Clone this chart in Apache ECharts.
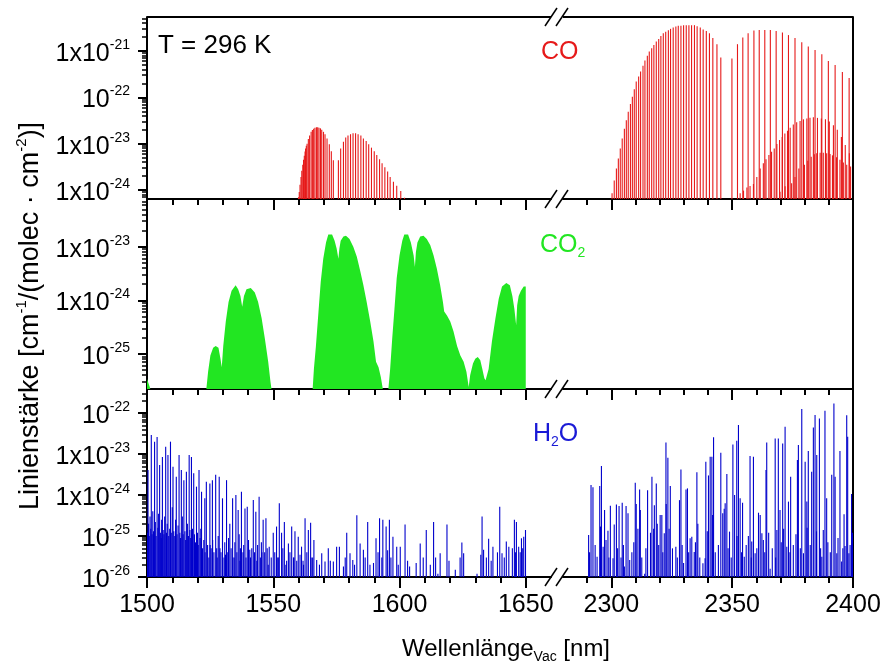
<!DOCTYPE html>
<html>
<head>
<meta charset="utf-8">
<script src="https://cdn.jsdelivr.net/npm/echarts@6.0.0/dist/echarts.min.js"></script>
<style>
  html, body { margin: 0; padding: 0; background: #fff; }
  #main { width: 886px; height: 664px; }
</style>
</head>
<body>
<div id="main"></div>
<script>
// --- data: [wavelength nm, line strength cm^-1/(molec cm^-2)] ---

// CO, 3-0 band near 1.57 um
var coLeft = [
  [1560.0, 7.0e-25], [1560.3, 9.1e-25], [1560.6, 1.3e-24], [1561.0, 1.9e-24], [1561.3, 2.6e-24],
  [1561.7, 3.5e-24], [1562.0, 4.5e-24], [1562.3, 5.5e-24], [1562.6, 6.8e-24], [1562.8, 7.9e-24],
  [1563.1, 9.0e-24], [1563.4, 1.0e-23], [1563.9, 1.26e-23], [1564.4, 1.5e-23], [1565.0, 1.8e-23],
  [1565.5, 1.97e-23], [1566.0, 2.1e-23], [1566.5, 2.2e-23], [1567.1, 2.25e-23], [1567.6, 2.25e-23],
  [1568.1, 2.2e-23], [1568.7, 2.14e-23], [1569.2, 2.0e-23], [1569.9, 1.8e-23], [1570.5, 1.6e-23],
  [1571.3, 1.3e-23], [1572.2, 9.7e-24], [1573.0, 6.9e-24], [1573.8, 4.4e-24],
  [1575.8, 4.4e-24], [1576.7, 7.9e-24], [1577.8, 1.1e-23], [1578.7, 1.35e-23], [1579.6, 1.5e-23],
  [1580.6, 1.6e-23], [1581.6, 1.67e-23], [1582.6, 1.67e-23], [1583.6, 1.6e-23], [1584.7, 1.5e-23],
  [1585.7, 1.3e-23], [1586.8, 1.14e-23], [1587.8, 9.7e-24], [1588.9, 8.2e-24], [1590.0, 6.9e-24],
  [1591.0, 5.7e-24], [1592.1, 4.6e-24], [1593.1, 3.8e-24], [1594.2, 3.1e-24], [1595.3, 2.5e-24],
  [1596.3, 1.9e-24], [1597.6, 1.5e-24], [1598.9, 1.24e-24], [1600.5, 9.5e-25], [1602.0, 6.8e-25]
];

// CO, 2-0 band near 2.33 um
var coRight = [
  [2300.3, 8.5e-25], [2301.2, 1.6e-24], [2302.1, 2.9e-24], [2302.9, 4.8e-24], [2303.7, 7.9e-24],
  [2304.5, 1.3e-23], [2305.4, 2.1e-23], [2306.2, 3.2e-23], [2307.0, 4.9e-23], [2307.9, 7.2e-23],
  [2308.7, 1.03e-22], [2309.5, 1.5e-22], [2310.3, 2.2e-22], [2311.3, 2.8e-22], [2312.1, 3.6e-22],
  [2313.1, 4.8e-22], [2313.9, 6.2e-22], [2314.9, 7.9e-22], [2315.7, 9.7e-22], [2316.7, 1.14e-21],
  [2317.6, 1.35e-21], [2318.6, 1.6e-21], [2319.6, 1.8e-21], [2320.5, 2.1e-21], [2321.5, 2.4e-21],
  [2322.5, 2.6e-21], [2323.6, 2.8e-21], [2324.5, 3.0e-21], [2325.6, 3.2e-21], [2326.7, 3.35e-21],
  [2327.7, 3.5e-21], [2328.8, 3.5e-21], [2329.9, 3.6e-21], [2331.0, 3.6e-21], [2332.1, 3.6e-21],
  [2333.2, 3.6e-21], [2334.4, 3.6e-21], [2335.5, 3.4e-21], [2336.8, 3.2e-21], [2338.0, 2.9e-21],
  [2339.3, 2.7e-21], [2340.6, 2.4e-21], [2342.0, 1.9e-21], [2343.7, 1.4e-21], [2345.3, 7.2e-22],
  [2349.9, 6.9e-22], [2352.2, 1.4e-21], [2354.4, 1.94e-21], [2356.6, 2.4e-21], [2359.0, 2.75e-21],
  [2361.2, 2.84e-21], [2363.5, 2.84e-21], [2365.8, 2.84e-21], [2368.2, 2.7e-21], [2370.8, 2.5e-21],
  [2373.3, 2.2e-21], [2376.0, 1.9e-21], [2378.8, 1.54e-21], [2381.5, 1.24e-21], [2384.3, 1.05e-21],
  [2387.1, 8.5e-22], [2389.8, 6.1e-22], [2392.6, 5.0e-22], [2395.6, 3.5e-22], [2398.4, 2.6e-22]
];

// weaker CO bands (isotopologue / hot band) under the 2-0 band
var coWeakA = [
  [2353.3, 8.5e-25], [2354.7, 9.7e-25], [2356.1, 1.14e-24], [2357.4, 1.22e-24], [2358.8, 1.35e-24],
  [2360.2, 1.9e-24], [2361.6, 2.9e-24], [2362.9, 3.8e-24], [2364.0, 4.6e-24], [2365.2, 5.7e-24],
  [2366.3, 6.7e-24], [2367.4, 7.9e-24], [2368.5, 9.8e-24], [2369.6, 1.2e-23], [2370.7, 1.4e-23],
  [2371.8, 1.66e-23], [2372.9, 1.9e-23], [2374.0, 2.2e-23], [2375.3, 2.6e-23], [2376.7, 2.9e-23],
  [2378.1, 3.1e-23], [2379.5, 3.35e-23], [2380.9, 3.5e-23], [2382.2, 3.6e-23], [2383.6, 3.7e-23],
  [2385.3, 3.6e-23], [2386.9, 3.5e-23], [2388.6, 3.35e-23], [2390.2, 3.0e-23], [2391.9, 2.5e-23],
  [2393.5, 2.0e-23], [2395.2, 1.4e-23], [2396.8, 9.3e-24], [2398.5, 6.2e-24]
];
var coWeakB = [
  [2369.8, 9.2e-25], [2371.9, 1.2e-24], [2374.6, 1.4e-24], [2376.0, 1.9e-24], [2377.6, 2.9e-24],
  [2379.9, 3.5e-24], [2381.3, 4.3e-24], [2382.7, 5.2e-24], [2384.0, 5.9e-24], [2385.0, 6.2e-24],
  [2386.4, 6.4e-24], [2387.7, 6.4e-24], [2389.1, 6.2e-24], [2390.5, 6.0e-24], [2391.5, 5.6e-24],
  [2393.2, 5.1e-24], [2394.6, 4.5e-24], [2396.0, 3.9e-24], [2397.4, 3.5e-24], [2399.0, 3.2e-24]
];

// CO2 bands: envelope of the dense line forest (drawn as filled area)
var co2Envelope = [
  [1500.0, 3.4e-26], [1501.1, 2.4e-26], [1501.3, 2.2e-26],
  [1523.5, 2.2e-26], [1524.2, 4.6e-26], [1525.1, 9.3e-26], [1526.2, 1.3e-25], [1527.2, 1.4e-25],
  [1528.3, 1.3e-25], [1529.1, 8.1e-26], [1529.6, 5.6e-26],
  [1530.2, 1.4e-25], [1531.2, 4.0e-25], [1532.3, 9.3e-25], [1533.5, 1.5e-24], [1535.1, 1.9e-24],
  [1536.1, 1.6e-24], [1537.0, 1.2e-24], [1537.7, 7.6e-25],
  [1538.4, 1.2e-24], [1539.4, 1.6e-24], [1541.1, 1.7e-24], [1542.7, 1.4e-24], [1544.0, 9.3e-25],
  [1545.4, 4.6e-25], [1546.7, 1.9e-25], [1548.0, 7.1e-26], [1548.9, 3.0e-26], [1549.3, 2.2e-26],
  [1565.6, 2.2e-26], [1566.1, 5.2e-26], [1566.9, 1.4e-25], [1567.9, 6.0e-25], [1568.8, 2.2e-24],
  [1569.8, 6.0e-24], [1570.9, 1.2e-23], [1571.8, 1.7e-23], [1572.5, 1.8e-23], [1573.3, 1.7e-23],
  [1574.3, 1.3e-23], [1575.1, 9.3e-24], [1575.8, 6.0e-24],
  [1576.2, 9.3e-24], [1576.7, 1.3e-23], [1577.8, 1.55e-23], [1578.8, 1.6e-23], [1580.2, 1.4e-23],
  [1581.7, 1.0e-23], [1583.1, 6.5e-24], [1584.4, 3.6e-24], [1585.7, 1.9e-24], [1587.0, 9.3e-25],
  [1588.4, 4.0e-25], [1589.7, 1.7e-25], [1590.7, 7.1e-26], [1591.7, 5.6e-26], [1592.6, 3.7e-26],
  [1593.4, 2.2e-26],
  [1595.6, 2.2e-26], [1596.3, 5.2e-26], [1597.1, 1.9e-25], [1598.0, 6.9e-25], [1598.9, 2.6e-24],
  [1600.0, 6.9e-24], [1601.1, 1.3e-23], [1601.9, 1.7e-23], [1602.6, 1.8e-23], [1603.4, 1.7e-23],
  [1604.5, 1.2e-23], [1605.6, 6.9e-24], [1606.1, 4.2e-24],
  [1606.5, 8.0e-24], [1607.1, 1.2e-23], [1608.2, 1.55e-23], [1609.5, 1.6e-23], [1610.8, 1.4e-23],
  [1612.2, 1.07e-23], [1613.5, 6.9e-24], [1614.8, 3.9e-24], [1616.1, 1.9e-24], [1617.2, 9.3e-25],
  [1617.7, 6.2e-25], [1618.8, 5.2e-25], [1620.1, 4.0e-25], [1621.4, 2.6e-25], [1622.8, 1.4e-25],
  [1624.1, 9.3e-26], [1625.4, 7.1e-26], [1626.5, 4.6e-26], [1627.1, 3.0e-26], [1627.4, 2.4e-26],
  [1628.0, 4.0e-26], [1629.1, 6.6e-26], [1630.0, 8.1e-26], [1631.0, 8.7e-26], [1632.0, 7.6e-26],
  [1632.8, 5.2e-26], [1633.6, 3.5e-26], [1634.1, 3.2e-26],
  [1635.3, 5.2e-26], [1636.6, 1.7e-25], [1638.0, 4.6e-25], [1639.3, 1.07e-24], [1640.6, 1.8e-24],
  [1642.3, 2.1e-24], [1643.7, 1.9e-24], [1644.7, 1.2e-24], [1645.5, 6.9e-25], [1646.2, 3.4e-25],
  [1646.6, 8.1e-25], [1647.2, 1.2e-24], [1648.1, 1.5e-24], [1649.2, 1.8e-24], [1650.0, 1.8e-24],
  [1650.0, 2.2e-26]
];

// H2O lines, 1500-1650 nm
var h2oLeft = [
  [1500.4, 4.1e-24], [1501.7, 2.9e-23], [1503.0, 2.0e-23], [1504.0, 2.6e-23], [1505.0, 5.4e-24],
  [1506.1, 8.5e-24], [1507.4, 1.5e-23], [1508.3, 9.5e-24], [1509.3, 2.0e-23], [1510.3, 4.9e-24],
  [1511.6, 2.8e-24], [1512.7, 9.5e-24], [1513.6, 4.1e-24], [1514.6, 2.3e-24], [1515.6, 3.7e-24],
  [1516.7, 9.5e-24], [1517.6, 8.5e-24], [1518.5, 3.4e-24], [1519.6, 1.6e-24], [1520.6, 4.1e-24],
  [1521.6, 1.2e-24], [1522.9, 8.3e-25], [1523.5, 2.1e-24], [1524.9, 1.9e-24], [1525.9, 2.3e-24],
  [1527.2, 3.1e-24], [1528.6, 2.8e-24], [1529.9, 8.3e-25], [1531.5, 2.3e-24], [1532.8, 2.0e-25],
  [1533.9, 8.3e-25], [1535.2, 1.0e-24], [1536.1, 4.3e-25], [1537.4, 1.2e-24], [1538.8, 4.7e-25],
  [1539.7, 5.2e-25], [1540.7, 4.6e-26], [1542.1, 7.5e-25], [1543.1, 3.9e-25], [1544.4, 9.1e-25],
  [1546.0, 2.5e-25], [1547.1, 2.7e-25], [1548.4, 5.5e-26], [1550.0, 1.2e-25], [1551.3, 1.7e-25],
  [1552.4, 6.3e-25], [1553.3, 1.2e-25], [1554.4, 2.2e-25], [1556.0, 6.6e-26], [1557.3, 1.7e-25],
  [1558.6, 1.3e-25], [1559.9, 9.6e-26], [1561.2, 5.5e-26], [1562.6, 2.7e-25], [1563.9, 1.4e-25],
  [1564.8, 2.1e-25], [1566.1, 8.0e-26], [1567.2, 2.6e-26], [1569.2, 3.8e-26], [1570.5, 2.4e-26],
  [1571.8, 5.0e-26], [1573.8, 2.4e-26], [1575.1, 5.5e-26], [1576.2, 5.5e-26], [1577.8, 1.8e-26],
  [1579.1, 1.2e-25], [1580.4, 3.8e-26], [1581.5, 2.6e-26], [1583.1, 3.2e-25], [1584.4, 6.6e-26],
  [1585.7, 4.6e-26], [1587.4, 2.2e-25], [1589.7, 2.2e-26], [1590.7, 8.8e-26], [1592.1, 2.7e-25],
  [1593.4, 2.5e-25], [1594.7, 1.7e-25], [1596.0, 2.5e-25], [1597.4, 9.6e-26], [1598.9, 5.5e-26],
  [1600.3, 5.5e-26], [1602.2, 1.9e-25], [1604.0, 1.8e-26], [1606.6, 2.2e-26], [1608.2, 6.6e-26],
  [1610.6, 1.4e-25], [1613.5, 2.2e-25], [1615.2, 1.2e-26], [1616.1, 3.8e-26], [1618.8, 1.9e-25],
  [1622.1, 1.5e-26], [1624.7, 6.9e-26], [1625.4, 3.8e-26], [1630.7, 1.2e-26], [1632.7, 3.0e-25],
  [1633.3, 4.6e-26], [1635.3, 8.6e-26], [1637.0, 5.5e-26], [1639.7, 5.2e-25], [1640.6, 3.8e-26],
  [1642.3, 7.3e-26], [1643.3, 5.5e-26], [1645.5, 2.5e-25], [1646.3, 2.2e-25], [1647.2, 5.5e-26],
  [1648.3, 8.8e-26], [1649.2, 9.6e-26], [1649.9, 1.4e-25]
];
// the many weak H2O lines that fill the lower part of the panel
var h2oLeftWeak = [
  [1500.2, 1.2e-25], [1500.6, 2.0e-25], [1500.9, 1.0e-25], [1501.2, 3.0e-25], [1501.5, 1.5e-25],
  [1502.0, 1.1e-25], [1502.3, 4.0e-25], [1502.6, 1.3e-25], [1503.3, 2.2e-25], [1503.6, 1.0e-25],
  [1504.3, 1.6e-25], [1504.6, 3.5e-25], [1505.3, 1.2e-25], [1505.6, 9.0e-26], [1505.8, 2.5e-25],
  [1506.4, 1.4e-25], [1506.7, 1.1e-25], [1507.0, 3.0e-25], [1507.7, 1.2e-25], [1508.0, 2.0e-25],
  [1508.6, 1.0e-25], [1509.0, 1.5e-25], [1509.6, 1.2e-25], [1510.0, 5.0e-25], [1510.6, 1.3e-25],
  [1511.0, 1.0e-25], [1511.3, 2.5e-25], [1511.9, 1.1e-25], [1512.3, 1.8e-25], [1513.0, 1.2e-25],
  [1513.3, 9.0e-26], [1514.0, 3.0e-25], [1514.3, 1.1e-25], [1515.0, 1.3e-25], [1515.3, 8.0e-26],
  [1516.0, 2.0e-25], [1516.4, 1.0e-25], [1517.0, 1.4e-25], [1517.3, 9.0e-26], [1518.0, 1.5e-25],
  [1518.8, 1.1e-25], [1519.2, 7.0e-26], [1520.0, 1.2e-25], [1520.3, 6.0e-26], [1521.0, 9.0e-26],
  [1521.3, 1.5e-25], [1522.0, 5.0e-26], [1522.5, 8.0e-26], [1523.0, 4.0e-26], [1524.0, 6.0e-26],
  [1524.5, 3.0e-26], [1525.0, 6.0e-26], [1525.4, 5.0e-26], [1526.0, 8.0e-26], [1526.5, 4.0e-26],
  [1527.6, 5.0e-26], [1527.8, 3.0e-26], [1528.2, 1.0e-25], [1528.9, 5.0e-26], [1529.3, 4.0e-26],
  [1530.5, 3.0e-26], [1530.8, 7.0e-26], [1531.1, 3.5e-26], [1532.0, 4.0e-26], [1532.3, 9.0e-26],
  [1533.3, 5.0e-26], [1534.0, 3.0e-26], [1534.5, 3.0e-26], [1534.8, 7.0e-26], [1535.6, 4.0e-26],
  [1536.5, 1.1e-25], [1536.8, 2.5e-26], [1537.0, 5.0e-26], [1538.0, 4.0e-26], [1538.3, 6.0e-26],
  [1539.2, 3.0e-26], [1540.2, 8.0e-26], [1541.0, 3.0e-26], [1541.5, 5.0e-26], [1542.6, 4.0e-26],
  [1543.5, 2.5e-26], [1543.8, 6.0e-26], [1544.9, 3.0e-26], [1545.3, 7.0e-26], [1545.5, 4.0e-26],
  [1546.6, 4.0e-26], [1547.6, 5.0e-26], [1548.0, 2.0e-26], [1549.2, 3.0e-26], [1550.6, 4.0e-26],
  [1551.8, 3.0e-26], [1552.0, 3.0e-26], [1553.8, 5.0e-26], [1555.0, 2.0e-26], [1555.3, 2.5e-26],
  [1556.6, 4.0e-26], [1558.0, 3.0e-26], [1558.2, 3.0e-26], [1559.3, 2.5e-26], [1560.6, 3.5e-26],
  [1561.8, 2.5e-26], [1562.0, 2.0e-26], [1563.3, 4.0e-26], [1565.0, 3.0e-26], [1565.6, 3.0e-26],
  [1568.3, 2.0e-26], [1572.6, 2.5e-26], [1578.5, 3.0e-26], [1582.2, 2.0e-26], [1586.4, 3.0e-26],
  [1588.3, 2.0e-26], [1591.5, 4.0e-26], [1593.0, 3.0e-26], [1595.3, 4.5e-26], [1596.6, 3.0e-26],
  [1599.5, 2.0e-26], [1603.2, 2.5e-26], [1609.4, 3.0e-26], [1612.2, 2.0e-26], [1614.3, 3.0e-26],
  [1619.6, 2.5e-26], [1624.0, 3.0e-26], [1632.2, 3.5e-26], [1634.4, 3.0e-26], [1636.3, 2.5e-26],
  [1638.8, 4.0e-26], [1641.5, 3.0e-26], [1644.7, 5.0e-26], [1645.9, 4.0e-26], [1647.8, 4.0e-26],
  [1648.8, 5.0e-26]
];

// H2O lines, 2290-2400 nm
var h2oRight = [
  [2290.6, 1.06e-25], [2291.6, 1.75e-24], [2292.4, 1.54e-24], [2294.1, 3.1e-26], [2295.2, 1.66e-24],
  [2295.5, 1.7e-25], [2295.9, 5.1e-24], [2296.6, 5.5e-26], [2297.2, 4.3e-25], [2298.6, 1.35e-25],
  [2299.6, 5.5e-25], [2300.7, 2.85e-26], [2301.2, 1.9e-25], [2302.1, 5.9e-25], [2303.2, 5.4e-25],
  [2304.5, 6.5e-25], [2305.4, 1.8e-26], [2306.1, 5.4e-25], [2306.9, 3.6e-25], [2307.6, 2.6e-26],
  [2309.9, 2.0e-24], [2310.3, 6.0e-25], [2311.0, 1.5e-25], [2311.7, 1.37e-24], [2312.0, 4.3e-25],
  [2313.8, 1.2e-26], [2315.0, 1.3e-24], [2316.8, 2.8e-24], [2317.5, 1.5e-25], [2317.8, 5.6e-25],
  [2318.6, 1.9e-24], [2319.0, 2.0e-25], [2320.2, 3.25e-25], [2320.9, 3.25e-25], [2321.9, 1.16e-25],
  [2322.6, 1.9e-23], [2322.7, 6.0e-25], [2323.4, 8.1e-24], [2324.4, 1.66e-24], [2326.7, 5.5e-26],
  [2328.2, 7.5e-25], [2328.8, 4.2e-24], [2329.9, 2.2e-26], [2330.9, 1.37e-24], [2331.5, 1.45e-24],
  [2332.6, 8.8e-26], [2333.3, 9.6e-26], [2334.3, 4.1e-26], [2335.4, 3.6e-24], [2335.8, 2.0e-25],
  [2337.9, 2.15e-26], [2338.8, 2.85e-26], [2339.1, 6.5e-24], [2340.2, 3.0e-24], [2340.9, 8.6e-24],
  [2341.6, 8.6e-24], [2341.9, 3.25e-25], [2342.3, 2.55e-23], [2345.3, 1.08e-23], [2346.1, 3.6e-25],
  [2346.7, 4.6e-25], [2347.1, 6.3e-25], [2347.8, 3.25e-24], [2348.9, 1.28e-25], [2350.3, 1.7e-23],
  [2351.0, 1.0e-24], [2351.9, 2.1e-23], [2352.6, 5.1e-23], [2353.3, 8.3e-25], [2354.3, 6.5e-25],
  [2355.0, 3.1e-26], [2356.7, 1.0e-25], [2357.4, 8.9e-24], [2358.1, 7.3e-26], [2358.8, 8.6e-24],
  [2359.5, 3.8e-26], [2360.9, 3.7e-25], [2361.6, 3.25e-25], [2362.3, 1.16e-25], [2364.0, 4.1e-24],
  [2364.3, 1.9e-23], [2365.7, 1.6e-26], [2367.8, 2.4e-23], [2368.5, 1.4e-25], [2369.1, 2.4e-23],
  [2369.8, 4.3e-25], [2370.9, 1.8e-23], [2371.9, 4.6e-23], [2372.6, 5.5e-26], [2373.3, 6.9e-25],
  [2374.2, 2.8e-24], [2377.0, 7.1e-24], [2377.4, 1.66e-23], [2378.8, 1.25e-22], [2379.5, 3.8e-26],
  [2380.2, 6.5e-24], [2380.9, 6.9e-25], [2381.5, 1.18e-23], [2382.9, 3.7e-24], [2383.6, 4.4e-23],
  [2384.3, 8.9e-23], [2385.0, 9.5e-24], [2386.1, 7.3e-23], [2387.1, 3.1e-26], [2387.7, 1.4e-25],
  [2388.4, 1.14e-22], [2389.1, 8.3e-25], [2391.2, 3.1e-24], [2392.1, 1.7e-22], [2392.6, 2.8e-24],
  [2393.3, 3.8e-26], [2394.6, 1.18e-23], [2395.3, 2.4e-26], [2396.3, 3.4e-25], [2396.7, 5.7e-26],
  [2397.4, 8.8e-23], [2397.8, 2.65e-23], [2398.3, 3.8e-26], [2399.4, 1.06e-24]
];
var h2oRightWeak = [
  [2291.0, 4.0e-26], [2293.3, 6.0e-26], [2297.8, 8.0e-26], [2299.0, 3.0e-26], [2302.6, 5.0e-26],
  [2304.0, 3.0e-26], [2305.0, 6.0e-26], [2308.5, 4.0e-26], [2309.3, 7.0e-26], [2312.6, 3.0e-26],
  [2314.3, 5.0e-26], [2316.2, 1.2e-25], [2319.6, 6.0e-26], [2321.3, 4.0e-26], [2323.9, 1.5e-25],
  [2325.3, 5.0e-26], [2327.3, 3.0e-26], [2329.3, 6.0e-26], [2332.0, 4.0e-26], [2334.8, 7.0e-26],
  [2336.6, 3.0e-26], [2339.7, 1.3e-25], [2343.0, 4.0e-26], [2344.3, 6.0e-26], [2348.3, 5.0e-26],
  [2349.6, 3.0e-26], [2352.0, 1.0e-25], [2353.9, 4.0e-26], [2355.8, 6.0e-26], [2357.9, 3.0e-26],
  [2360.2, 5.0e-26], [2362.9, 8.0e-26], [2363.5, 4.0e-26], [2365.1, 1.2e-25], [2366.6, 5.0e-26],
  [2368.0, 3.0e-26], [2370.3, 7.0e-26], [2371.3, 1.5e-25], [2373.9, 4.0e-26], [2375.3, 6.0e-26],
  [2376.4, 1.1e-25], [2378.2, 5.0e-26], [2381.0, 1.6e-25], [2382.3, 6.0e-26], [2384.9, 1.3e-25],
  [2386.6, 5.0e-26], [2389.6, 7.0e-26], [2390.6, 4.0e-26], [2393.8, 9.0e-26], [2395.8, 5.0e-26],
  [2398.8, 6.0e-26], [2399.8, 1.2e-25]
];

// axis ticks and labels
var leftMajor = [1500, 1550, 1600, 1650];
var leftMinor = [1510, 1520, 1530, 1540, 1560, 1570, 1580, 1590, 1610, 1620, 1630, 1640];
var rightMajor = [2300, 2350, 2400];
var rightMinor = [2290, 2310, 2320, 2330, 2340, 2360, 2370, 2380, 2390];

var coTicks = [1e-21, 1e-22, 1e-23, 1e-24];
var coTickText = ['1x10^-21', '10^-22', '1x10^-23', '1x10^-24'];
var co2Ticks = [1e-23, 1e-24, 1e-25];
var co2TickText = ['1x10^-23', '1x10^-24', '10^-25'];
var h2oTicks = [1e-22, 1e-23, 1e-24, 1e-25, 1e-26];
var h2oTickText = ['10^-22', '1x10^-23', '1x10^-24', '10^-25', '10^-26'];

// ------------------------------------------------------------------
// ECharts rounds log-axis extents to 20 decimals, so the strengths are
// plotted in units of 1e-26 and the labels show the true powers of ten.
var UNIT = 1e-26;
var FONT = '"Liberation Sans", Arial, Helvetica, sans-serif';
var RED = '#e61a1a', GREEN = '#22e622', BLUE = '#0000cc';

function scaled(data) {
  return data.map(function (d) { return [d[0], d[1] / UNIT]; });
}
function minorValues(lo, hi) {
  var out = [];
  for (var e = lo; e <= hi; e++) {
    for (var k = 2; k <= 9; k++) out.push(k * Math.pow(10, e) / UNIT);
  }
  return out;
}

var panels = [
  { top: 17, height: 182, min: 6.4e-25, max: 5.4e-21, ticks: coTicks, text: coTickText, minor: minorValues(-25, -21) },
  { top: 199, height: 190, min: 2.2e-26, max: 7.8e-23, ticks: co2Ticks, text: co2TickText, minor: minorValues(-26, -23) },
  { top: 389, height: 188, min: 1e-26, max: 3.85e-22, ticks: h2oTicks, text: h2oTickText, minor: minorValues(-26, -22) }
];
var sides = [
  { left: 147, width: 404, min: 1500, max: 1660, major: leftMajor, minor: leftMinor },
  { left: 563, width: 290, min: 2280, max: 2400, major: rightMajor, minor: rightMinor }
];

function tickFormatter(values, texts) {
  return function (v) {
    var lv = Math.log10(v * UNIT);
    for (var i = 0; i < values.length; i++) {
      if (Math.abs(lv - Math.log10(values[i])) < 0.01) {
        var p = texts[i].split('^');
        return '{m|' + p[0] + '}{s|' + p[1] + '}';
      }
    }
    return '';
  };
}

var axisLineStyle = { color: '#000', width: 2 };
var grids = [], xAxes = [], yAxes = [], idx = [];

panels.forEach(function (p, pi) {
  idx.push([]);
  var yMin = p.min / UNIT, yMax = p.max / UNIT;
  var tickVals = p.ticks.map(function (t) { return t / UNIT; });
  sides.forEach(function (s, si) {
    var gi = grids.length;
    grids.push({ left: s.left, top: p.top, width: s.width, height: p.height, outerBoundsMode: 'none', containLabel: false });

    var xi = xAxes.length;
    xAxes.push({
      gridIndex: gi, type: 'value', min: s.min, max: s.max, position: 'bottom',
      axisLine: { show: true, lineStyle: axisLineStyle },
      axisTick: { show: true, length: 11, lineStyle: axisLineStyle, customValues: s.major },
      axisLabel: {
        show: pi === 2, customValues: s.major, margin: 16,
        formatter: function (v) { return String(v); },
        fontFamily: FONT, fontSize: 25, color: '#000'
      },
      splitLine: { show: false }
    });
    xAxes.push({
      gridIndex: gi, type: 'value', min: s.min, max: s.max, position: 'top', offset: -p.height,
      axisLine: { show: false },
      axisTick: { show: true, inside: true, length: 6, lineStyle: axisLineStyle, customValues: s.minor },
      axisLabel: { show: false },
      splitLine: { show: false }
    });

    var yi = yAxes.length;
    if (si === 0) {
      yAxes.push({
        gridIndex: gi, type: 'log', min: yMin, max: yMax, position: 'left',
        axisLine: { show: true, lineStyle: axisLineStyle },
        axisTick: { show: true, length: 9, lineStyle: axisLineStyle, customValues: tickVals },
        axisLabel: {
          customValues: tickVals, margin: 17, padding: [6, 0, 0, 0],
          formatter: tickFormatter(p.ticks, p.text),
          rich: {
            m: { fontFamily: FONT, fontSize: 25, color: '#000', lineHeight: 32 },
            s: { fontFamily: FONT, fontSize: 14, color: '#000', lineHeight: 14, verticalAlign: 'top' }
          }
        },
        splitLine: { show: false }
      });
      yAxes.push({
        gridIndex: gi, type: 'log', min: yMin, max: yMax, position: 'right', offset: -s.width,
        axisLine: { show: false },
        axisTick: { show: true, inside: true, length: 5, lineStyle: { color: '#000', width: 1.5 }, customValues: p.minor },
        axisLabel: { show: false },
        splitLine: { show: false }
      });
    } else {
      yAxes.push({
        gridIndex: gi, type: 'log', min: yMin, max: yMax, position: 'right',
        axisLine: { show: true, lineStyle: axisLineStyle },
        axisTick: { show: false }, axisLabel: { show: false }, splitLine: { show: false }
      });
    }
    idx[pi].push({ x: xi, y: yi, floor: yMin });
  });
});

function sticks(data, color, ax) {
  return {
    type: 'custom', xAxisIndex: ax.x, yAxisIndex: ax.y, data: scaled(data), silent: true, clip: true,
    renderItem: function (params, api) {
      var a = api.coord([api.value(0), api.value(1)]);
      var b = api.coord([api.value(0), ax.floor]);
      return {
        type: 'line',
        shape: { x1: a[0], y1: a[1], x2: b[0], y2: b[1] },
        style: { stroke: color, lineWidth: 1.1 }
      };
    }
  };
}

var series = [
  sticks(coLeft, RED, idx[0][0]),
  sticks(coRight, RED, idx[0][1]),
  sticks(coWeakA, RED, idx[0][1]),
  sticks(coWeakB, RED, idx[0][1]),
  {
    type: 'line', xAxisIndex: idx[1][0].x, yAxisIndex: idx[1][0].y, data: scaled(co2Envelope),
    symbol: 'none', silent: true,
    lineStyle: { width: 0, opacity: 0 },
    areaStyle: { color: GREEN, opacity: 1, origin: 'start' }
  },
  sticks(h2oLeftWeak, BLUE, idx[2][0]),
  sticks(h2oLeft, BLUE, idx[2][0]),
  sticks(h2oRightWeak, BLUE, idx[2][1]),
  sticks(h2oRight, BLUE, idx[2][1])
];

// frame top edge and axis-break marks
var graphics = [
  { type: 'line', shape: { x1: 147, y1: 17, x2: 551, y2: 17 }, style: { stroke: '#000', lineWidth: 2 } },
  { type: 'line', shape: { x1: 563, y1: 17, x2: 853, y2: 17 }, style: { stroke: '#000', lineWidth: 2 } }
];
[17, 199, 389, 577].forEach(function (y0) {
  [551, 562].forEach(function (x0) {
    graphics.push({
      type: 'line', shape: { x1: x0 - 6, y1: y0 + 9, x2: x0 + 6, y2: y0 - 9 },
      style: { stroke: '#000', lineWidth: 1.5 }
    });
  });
});
graphics.push(
  { type: 'text', x: 158, y: 46, style: { text: 'T = 296 K', fontFamily: FONT, fontSize: 26, fill: '#000', verticalAlign: 'middle' } },
  { type: 'text', x: 541, y: 52, style: { text: 'CO', fontFamily: FONT, fontSize: 25, fill: RED, verticalAlign: 'middle' } },
  {
    type: 'text', x: 540, y: 245,
    style: {
      text: '{a|CO}{b|2}', verticalAlign: 'middle',
      rich: {
        a: { fontFamily: FONT, fontSize: 25, fill: GREEN, lineHeight: 30 },
        b: { fontFamily: FONT, fontSize: 14, fill: GREEN, lineHeight: 14, verticalAlign: 'bottom' }
      }
    }
  },
  {
    type: 'text', x: 533, y: 434,
    style: {
      text: '{a|H}{b|2}{a|O}', verticalAlign: 'middle',
      rich: {
        a: { fontFamily: FONT, fontSize: 25, fill: '#1a1ad6', lineHeight: 30 },
        b: { fontFamily: FONT, fontSize: 14, fill: '#1a1ad6', lineHeight: 14, verticalAlign: 'bottom' }
      }
    }
  },
  {
    type: 'text', x: 31, y: 316, rotation: Math.PI / 2,
    style: {
      text: 'Linienstärke [cm{s|-1}/(molec · cm{s|-2})]',
      fontFamily: FONT, fontSize: 27, fill: '#000', align: 'center', verticalAlign: 'middle', lineHeight: 34,
      rich: { s: { fontFamily: FONT, fontSize: 15, fill: '#000', lineHeight: 15, verticalAlign: 'top' } }
    }
  },
  {
    type: 'text', x: 506, y: 649,
    style: {
      text: 'Wellenlänge{s|Vac} [nm]',
      fontFamily: FONT, fontSize: 24, fill: '#000', align: 'center', verticalAlign: 'middle', lineHeight: 30,
      rich: { s: { fontFamily: FONT, fontSize: 14, fill: '#000', lineHeight: 14, verticalAlign: 'bottom' } }
    }
  }
);

var chart = echarts.init(document.getElementById('main'), null, { renderer: 'canvas' });
chart.setOption({
  animation: false,
  backgroundColor: '#fff',
  grid: grids,
  xAxis: xAxes,
  yAxis: yAxes,
  series: series,
  graphic: graphics
});
</script>
</body>
</html>
